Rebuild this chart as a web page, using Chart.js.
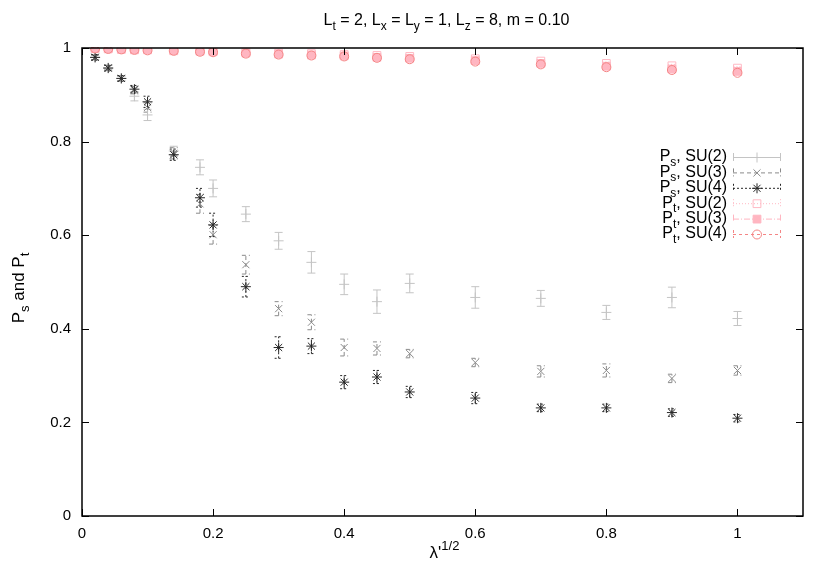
<!DOCTYPE html>
<html>
<head>
<meta charset="utf-8">
<script src="https://cdn.jsdelivr.net/npm/chart.js@4.4.1/dist/chart.umd.min.js"></script>
<style>
  body { margin: 0; background: #fff; }
  #wrap { width: 830px; height: 581px; position: relative; }
</style>
</head>
<body>
<div id="wrap"><canvas id="plot"></canvas></div>
<script>
// --- DATA ---
const xVals = [0.02, 0.04, 0.06, 0.08, 0.1, 0.14, 0.18, 0.2, 0.25, 0.3, 0.35, 0.4, 0.45, 0.5, 0.6, 0.7, 0.8, 0.9, 1.0];

const psSU2 = [0.980, 0.958, 0.935, 0.897, 0.857, 0.780, 0.745, 0.700, 0.645, 0.588, 0.542, 0.495, 0.458, 0.497, 0.467, 0.465, 0.435, 0.467, 0.422];
const psSU2Err = [0.005, 0.005, 0.006, 0.010, 0.012, 0.010, 0.016, 0.018, 0.016, 0.018, 0.023, 0.022, 0.025, 0.020, 0.023, 0.017, 0.015, 0.022, 0.015];

const psSU3 = [0.980, 0.958, 0.935, 0.910, 0.873, 0.775, 0.667, 0.601, 0.537, 0.443, 0.414, 0.360, 0.358, 0.347, 0.328, 0.309, 0.311, 0.294, 0.311];
const psSU3Err = [0.005, 0.005, 0.005, 0.008, 0.010, 0.012, 0.020, 0.020, 0.020, 0.015, 0.016, 0.018, 0.014, 0.009, 0.009, 0.012, 0.014, 0.009, 0.010];

const psSU4 = [0.980, 0.957, 0.935, 0.912, 0.885, 0.772, 0.680, 0.622, 0.490, 0.360, 0.363, 0.286, 0.297, 0.265, 0.252, 0.231, 0.231, 0.221, 0.209];
const psSU4Err = [0.006, 0.006, 0.006, 0.008, 0.012, 0.012, 0.020, 0.025, 0.022, 0.023, 0.016, 0.014, 0.014, 0.012, 0.012, 0.008, 0.008, 0.008, 0.008];

const ptSU2 = [0.999, 0.999, 0.998, 0.997, 0.997, 0.995, 0.994, 0.993, 0.991, 0.989, 0.988, 0.986, 0.984, 0.982, 0.977, 0.972, 0.967, 0.962, 0.957];
const ptSU2Err = [0.002, 0.002, 0.002, 0.002, 0.002, 0.002, 0.002, 0.002, 0.003, 0.003, 0.003, 0.003, 0.003, 0.003, 0.003, 0.003, 0.003, 0.003, 0.003];

const ptSU3 = [0.999, 0.998, 0.997, 0.996, 0.996, 0.994, 0.993, 0.992, 0.989, 0.987, 0.985, 0.983, 0.980, 0.978, 0.973, 0.967, 0.961, 0.955, 0.950];
const ptSU3Err = [0.002, 0.002, 0.002, 0.002, 0.002, 0.002, 0.002, 0.002, 0.002, 0.002, 0.002, 0.002, 0.002, 0.002, 0.002, 0.002, 0.002, 0.002, 0.002];

const ptSU4 = [0.999, 0.998, 0.997, 0.996, 0.995, 0.994, 0.992, 0.991, 0.988, 0.986, 0.984, 0.982, 0.979, 0.976, 0.971, 0.965, 0.959, 0.953, 0.947];
const ptSU4Err = [0.002, 0.002, 0.002, 0.002, 0.002, 0.002, 0.002, 0.002, 0.002, 0.002, 0.002, 0.002, 0.002, 0.002, 0.002, 0.002, 0.002, 0.002, 0.002];

const xTicks = [0, 0.2, 0.4, 0.6, 0.8, 1];
const xTickLabels = ['0', '0.2', '0.4', '0.6', '0.8', '1'];
const yTicks = [0, 0.2, 0.4, 0.6, 0.8, 1];
const yTickLabels = ['0', '0.2', '0.4', '0.6', '0.8', '1'];

// label pieces: [text, 0 normal | -1 sub | 1 sup]
const seriesNames = [
    [['P', 0], ['s', -1], [', SU(2)', 0]],
    [['P', 0], ['s', -1], [', SU(3)', 0]],
    [['P', 0], ['s', -1], [', SU(4)', 0]],
    [['P', 0], ['t', -1], [', SU(2)', 0]],
    [['P', 0], ['t', -1], [', SU(3)', 0]],
    [['P', 0], ['t', -1], [', SU(4)', 0]]
];
const titleText = [['L', 0], ['t', -1], [' = 2, L', 0], ['x', -1], [' = L', 0], ['y', -1], [' = 1, L', 0], ['z', -1], [' = 8, m = 0.10', 0]];
const xTitle = [['\u03bb\'', 0], ['1/2', 1]];
const yTitle = [['P', 0], ['s', -1], [' and P', 0], ['t', -1]];

const FONT = '"Liberation Sans", Arial, Helvetica, sans-serif';

const styles = [
    { color: '#c4c4c4', point: 'cross', radius: 5, fill: false, dash: [] },
    { color: '#8a8a8a', point: 'crossRot', radius: 5, fill: false, dash: [4, 3] },
    { color: '#262626', point: 'star', radius: 5, fill: false, dash: [2, 2] },
    { color: '#ffb9c4', point: 'rect', radius: 5.5, fill: false, dash: [1, 2] },
    { color: '#ffb6c1', point: 'rect', radius: 5.5, fill: true, dash: [6, 2, 1, 2] },
    { color: '#f48585', point: 'circle', radius: 4.5, fill: false, dash: [3, 3] }
];
const seriesY = [psSU2, psSU3, psSU4, ptSU2, ptSU3, ptSU4];
const seriesErr = [psSU2Err, psSU3Err, psSU4Err, ptSU2Err, ptSU3Err, ptSU4Err];

const datasets = seriesY.map((ys, i) => ({
    label: 'series' + i,
    data: xVals.map((x, k) => ({ x: x, y: ys[k] })),
    errors: seriesErr[i],
    showLine: false,
    pointStyle: styles[i].point,
    pointRadius: styles[i].radius,
    pointHoverRadius: styles[i].radius,
    borderColor: styles[i].color,
    backgroundColor: styles[i].fill ? styles[i].color : 'rgba(0,0,0,0)',
    pointBorderWidth: 1,
    order: 6 - i
}));

// draw text made of normal / sub / sup pieces
function richWidth(ctx, parts, size) {
    let w = 0;
    parts.forEach(p => {
        ctx.font = (p[1] === 0 ? size : Math.round(size * 0.75)) + 'px ' + FONT;
        w += ctx.measureText(p[0]).width;
    });
    return w;
}
function drawRich(ctx, parts, x, y, size, align) {
    const w = richWidth(ctx, parts, size);
    let cx = align === 'center' ? x - w / 2 : (align === 'right' ? x - w : x);
    ctx.textBaseline = 'middle';
    ctx.textAlign = 'left';
    parts.forEach(p => {
        const s = p[1] === 0 ? size : Math.round(size * 0.75);
        ctx.font = s + 'px ' + FONT;
        const dy = p[1] === -1 ? size * 0.35 : (p[1] === 1 ? -size * 0.4 : 0);
        ctx.fillText(p[0], cx, y + dy);
        cx += ctx.measureText(p[0]).width;
    });
}

const errorBars = {
    id: 'errorBars',
    beforeDatasetsDraw(chart) {
        const ctx = chart.ctx;
        const xs = chart.scales.x, ys = chart.scales.y;
        ctx.save();
        chart.data.datasets.forEach((ds, i) => {
            ctx.strokeStyle = styles[i].color;
            ctx.lineWidth = 1;
            ctx.setLineDash(styles[i].dash);
            ds.data.forEach((p, k) => {
                const e = ds.errors[k];
                const px = xs.getPixelForValue(p.x);
                const y1 = ys.getPixelForValue(p.y - e);
                const y2 = ys.getPixelForValue(p.y + e);
                ctx.beginPath();
                ctx.moveTo(px, y1); ctx.lineTo(px, y2);
                ctx.moveTo(px - 4, y1); ctx.lineTo(px + 4, y1);
                ctx.moveTo(px - 4, y2); ctx.lineTo(px + 4, y2);
                ctx.stroke();
            });
        });
        ctx.restore();
    }
};

const frame = {
    id: 'frame',
    afterDraw(chart) {
        const ctx = chart.ctx;
        const a = chart.chartArea;
        const xs = chart.scales.x, ys = chart.scales.y;
        ctx.save();
        ctx.strokeStyle = '#000';
        ctx.lineWidth = 1.5;
        ctx.setLineDash([]);
        ctx.strokeRect(a.left, a.top, a.right - a.left, a.bottom - a.top);
        ctx.lineWidth = 1;
        ctx.beginPath();
        xTicks.forEach(v => {
            const px = Math.round(xs.getPixelForValue(v)) + 0.5;
            ctx.moveTo(px, a.bottom); ctx.lineTo(px, a.bottom - 7);
            ctx.moveTo(px, a.top); ctx.lineTo(px, a.top + 7);
        });
        yTicks.forEach(v => {
            const py = Math.round(ys.getPixelForValue(v)) + 0.5;
            ctx.moveTo(a.left, py); ctx.lineTo(a.left + 7, py);
            ctx.moveTo(a.right, py); ctx.lineTo(a.right - 7, py);
        });
        ctx.stroke();

        ctx.fillStyle = '#000';
        drawRich(ctx, titleText, (a.left + a.right) / 2 + 4, 21, 16, 'center');
        drawRich(ctx, xTitle, (a.left + a.right) / 2 + 2, 553, 17, 'center');
        ctx.save();
        ctx.translate(19, (a.top + a.bottom) / 2 + 6);
        ctx.rotate(-Math.PI / 2);
        drawRich(ctx, yTitle, 0, 0, 17, 'center');
        ctx.restore();

        // key
        const textRight = 727, s1 = 733, s2 = 781, mid = 757;
        seriesNames.forEach((name, i) => {
            const y = 157 + i * 15.4;
            ctx.fillStyle = '#000';
            drawRich(ctx, name, textRight, y, 16, 'right');
            const st = styles[i];
            ctx.strokeStyle = st.color;
            ctx.lineWidth = 1;
            ctx.setLineDash(st.dash);
            ctx.beginPath();
            ctx.moveTo(s1, y + 0.5); ctx.lineTo(s2, y + 0.5);
            ctx.moveTo(s1 + 0.5, y - 4); ctx.lineTo(s1 + 0.5, y + 4);
            ctx.moveTo(s2 - 0.5, y - 4); ctx.lineTo(s2 - 0.5, y + 4);
            ctx.stroke();
            ctx.setLineDash([]);
            ctx.fillStyle = st.fill ? st.color : 'rgba(0,0,0,0)';
            Chart.helpers.drawPoint(ctx, { pointStyle: st.point, radius: st.radius, borderWidth: 1, rotation: 0 }, mid, y + 0.5);
        });
        ctx.restore();
    }
};

const ctx = document.getElementById('plot').getContext('2d');
const chart = new Chart(ctx, {
    type: 'scatter',
    data: { datasets: datasets },
    options: {
        responsive: true,
        maintainAspectRatio: false,
        animation: false,
        devicePixelRatio: 1,
        layout: { padding: { left: 0, top: 48, right: 27, bottom: 0 } },
        plugins: { legend: { display: false }, tooltip: { enabled: false }, title: { display: false } },
        scales: {
            x: {
                type: 'linear', min: 0, max: 1.1,
                afterFit: s => { s.height = 65; },
                afterBuildTicks: s => { s.ticks = xTicks.map(v => ({ value: v })); },
                grid: { display: false, drawTicks: false },
                border: { display: false },
                ticks: {
                    padding: 9, color: '#000', maxRotation: 0, autoSkip: false,
                    font: { family: FONT, size: 15 },
                    callback: (v) => xTickLabels[xTicks.indexOf(v)]
                }
            },
            y: {
                type: 'linear', min: 0, max: 1,
                afterFit: s => { s.width = 82; },
                afterBuildTicks: s => { s.ticks = yTicks.map(v => ({ value: v })); },
                grid: { display: false, drawTicks: false },
                border: { display: false },
                ticks: {
                    padding: 11, color: '#000', autoSkip: false,
                    font: { family: FONT, size: 15 },
                    callback: (v) => yTickLabels[yTicks.indexOf(v)]
                }
            }
        }
    },
    plugins: [errorBars, frame]
});
</script>
</body>
</html>
